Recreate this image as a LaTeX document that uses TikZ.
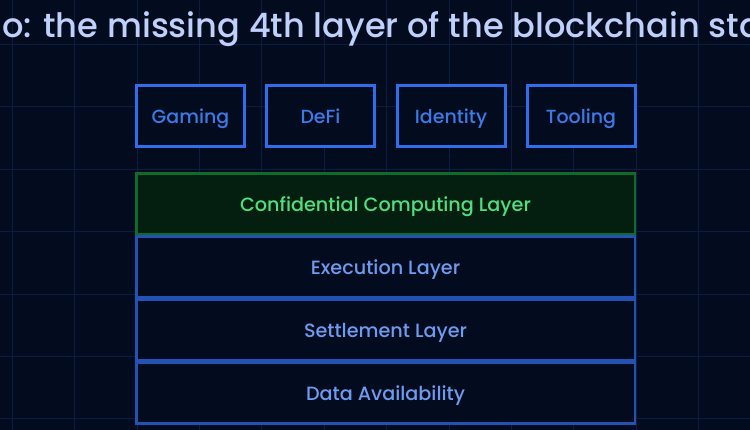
\documentclass[tikz,border=0pt]{standalone}
\usepackage{fontspec}
\setmainfont{Poppins Medium}
\definecolor{bg}{HTML}{030B1F}
\definecolor{gridc}{HTML}{0D1D42}
\definecolor{titlec}{HTML}{BFD0FA}
\definecolor{appline}{HTML}{2F6EEB}
\definecolor{apptext}{HTML}{3B7BE8}
\definecolor{greenfill}{HTML}{041E0F}
\definecolor{greenline}{HTML}{0E6B2C}
\definecolor{greentext}{HTML}{4DDF80}
\definecolor{layerline}{HTML}{2352B5}
\definecolor{layertext}{HTML}{6E9BEF}
\tikzset{
  gridline/.style={draw=gridc, line width=1pt},
  appbox/.style={draw=appline, line width=3pt, fill=bg, minimum width=108pt, minimum height=61pt,
    inner sep=0pt, text=apptext, text height=14.5pt, text depth=0pt,
    font=\fontsize{19}{23}\selectfont},
  layerbox/.style={draw=layerline, line width=2.5pt, fill=bg, minimum width=498.5pt, minimum height=60.5pt,
    inner sep=0pt, text=layertext, text height=14.5pt, text depth=0pt,
    font=\fontsize{19.2}{23}\selectfont},
  greenbox/.style={layerbox, draw=greenline, fill=greenfill, text=greentext},
}
\begin{document}
\begin{tikzpicture}[x=1pt,y=-1pt]
\useasboundingbox (0,0) rectangle (750,430);
\fill[bg] (0,0) rectangle (750,430);
\begin{scope}
\clip (0,0) rectangle (750,430);
\foreach \i in {0,...,12} \draw[gridline] ({12.3+62.4*\i},0) -- ++(0,430);
\foreach \j in {0,...,6} \draw[gridline] (0,{44.5+62.4*\j}) -- ++(750,0);
\node[anchor=base west, inner sep=0pt, text=titlec, font=\fontsize{33.6}{40}\selectfont] (title) at (2,37.5)
  {o: the missing 4th layer of the blockchain sta};
\end{scope}
\node[appbox] (gaming) at (190.5,116) {Gaming};
\node[appbox] (defi) at (320.5,116) {DeFi};
\node[appbox] (identity) at (451,116) {Identity};
\node[appbox] (tooling) at (581,116) {Tooling};
\node[layerbox] (da) at (385.5,393) {Data Availability};
\node[layerbox] (settle) at (385.5,330) {Settlement Layer};
\node[layerbox] (exec) at (385.5,267) {Execution Layer};
\node[greenbox] (conf) at (385.5,204) {Confidential Computing Layer};
\end{tikzpicture}
\end{document}
